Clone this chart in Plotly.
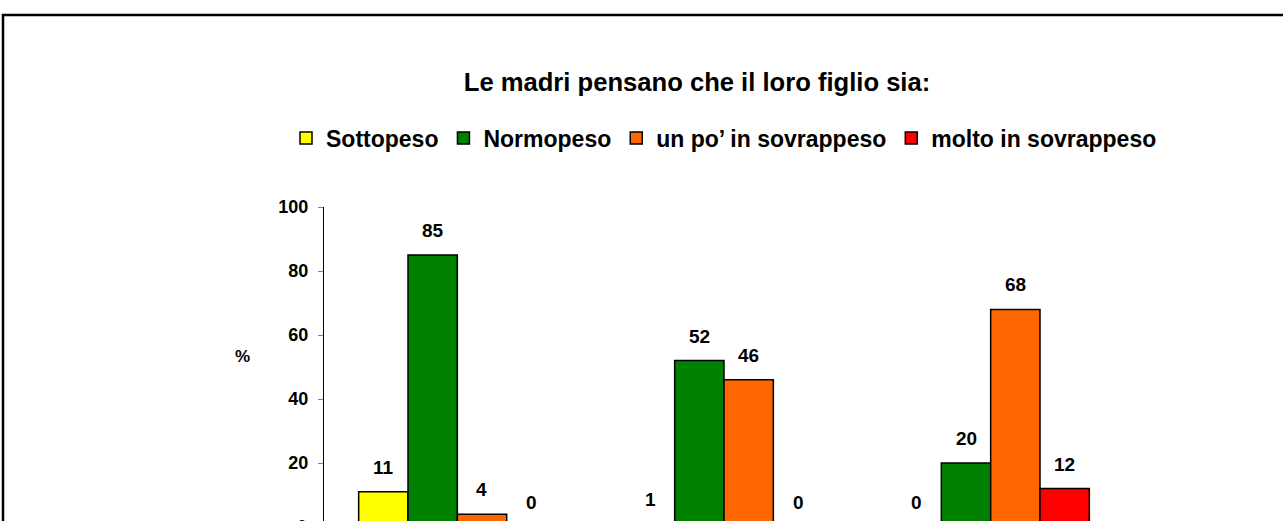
import plotly.graph_objects as go

# bambini per stato ponderale reale (etichette asse x fuori dall'immagine)
categories = ["Sotto/normopeso", "Sovrappeso", "Obeso"]
series_names = ["Sottopeso", "Normopeso", "un po\u2019 in sovrappeso", "molto in sovrappeso"]
sottopeso = [11, 1, 0]
normopeso = [85, 52, 20]
un_po_sovrappeso = [4, 46, 68]
molto_sovrappeso = [0, 0, 12]
y_ticks = [0, 20, 40, 60, 80, 100]

colors = ["#FFFF00", "#008000", "#FF6600", "#FF0000"]
font_name = "Liberation Sans, Arial, sans-serif"

W, H = 1283, 521
ml, mr, mt, mb = 324, 159, 207, 0
plot_w = W - ml - mr
plot_h = H - mt - mb
px_per_unit = 3.2
y_min = 100 - plot_h / px_per_unit  # asse tagliato in basso come nell'originale
y_max = 100

bargap = 0.26
band_px = plot_w / len(categories)
bar_px = band_px * (1 - bargap) / len(series_names)


def to_paper(v):
    # posizione in coordinate paper (anche sotto il bordo del grafico)
    return (v - y_min) / (y_max - y_min)


fig = go.Figure()
all_series = [sottopeso, normopeso, un_po_sovrappeso, molto_sovrappeso]
for name, vals, col in zip(series_names, all_series, colors):
    fig.add_trace(go.Bar(
        x=categories, y=vals, name="<b>%s</b>" % name,
        marker=dict(color=col, line=dict(color="black", width=1.5)),
        hoverinfo="x+y",
    ))

# etichette dei valori sopra le barre
for j, vals in enumerate(all_series):
    for cat, v in zip(categories, vals):
        if v >= y_min:
            yref, yy = "y", v
        else:
            yref, yy = "paper", to_paper(v)
        fig.add_annotation(
            x=cat, y=yy, xref="x", yref=yref,
            text="<b>%d</b>" % v, showarrow=False,
            xshift=(j - 1.5) * bar_px, yshift=12, yanchor="bottom",
            font=dict(family=font_name, size=19, color="black"),
        )

# etichetta "0" dell'asse, quasi tutta tagliata
fig.add_annotation(
    x=0, y=to_paper(0), xref="paper", yref="paper",
    text="<b>0</b>", showarrow=False, xanchor="right", yanchor="middle",
    xshift=-15, font=dict(family=font_name, size=18, color="black"),
)

# "%" asse y
fig.add_annotation(
    x=(242 - ml) / plot_w, y=(H - 356 - mb) / plot_h, xref="paper", yref="paper",
    text="<b>%</b>", showarrow=False, xanchor="center", yanchor="middle",
    font=dict(family=font_name, size=17, color="black"),
)

# cornice del grafico
fig.add_shape(
    type="rect", xref="paper", yref="paper",
    x0=(3 - ml) / plot_w, x1=(W + 20 - ml) / plot_w,
    y0=-0.2, y1=(H - 15 - mb) / plot_h,
    line=dict(color="black", width=2.5), layer="above",
)

fig.update_layout(
    width=W, height=H,
    margin=dict(l=ml, r=mr, t=mt, b=mb, pad=0),
    template="none",
    paper_bgcolor="white", plot_bgcolor="white",
    barmode="group", bargap=bargap, bargroupgap=0,
    title=dict(
        text="<b>Le madri pensano che il loro figlio sia:</b>",
        x=697 / W, xref="container", xanchor="center",
        y=1 - 82 / H, yref="container", yanchor="middle",
        font=dict(family=font_name, size=25.6, color="black"),
    ),
    legend=dict(
        orientation="h", xref="paper", x=(286 - ml) / plot_w, xanchor="left",
        yref="paper", y=(H - 138 - mb) / plot_h, yanchor="middle",
        font=dict(family=font_name, size=23, color="black"),
        itemwidth=30, bgcolor="rgba(0,0,0,0)",
        traceorder="normal",
    ),
    showlegend=True,
    font=dict(family=font_name, color="black"),
)
fig.update_xaxes(
    showticklabels=False, showgrid=False, zeroline=False,
    showline=False, ticks="", automargin=False,
)
fig.update_yaxes(
    range=[y_min, y_max], tickvals=y_ticks,
    ticktext=["<b>%d</b>" % t for t in y_ticks],
    tickfont=dict(family=font_name, size=18, color="black"),
    ticks="outside", ticklen=5, tickcolor="#808080", tickwidth=1,
    ticklabelstandoff=6,
    showline=True, linecolor="black", linewidth=1,
    showgrid=False, zeroline=False, automargin=False,
)

fig.write_html(
    "out.html",
    config={"displayModeBar": False},
    post_script="document.body.style.margin='0';document.body.style.overflow='hidden';",
)
